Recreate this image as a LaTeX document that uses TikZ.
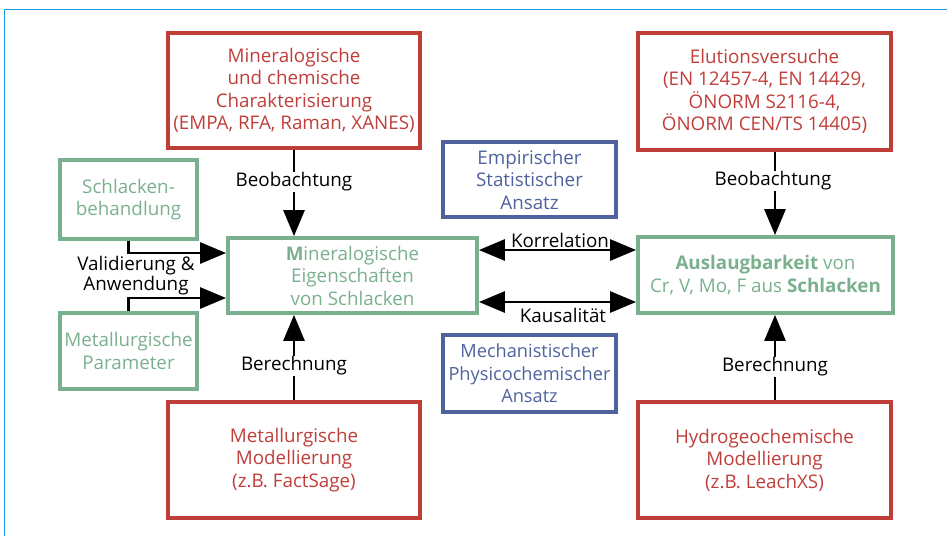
\documentclass[tikz,border=0pt]{standalone}
\usepackage{fontspec}
\setmainfont{Open Sans}
\usetikzlibrary{arrows.meta}
\definecolor{fred}{RGB}{192,62,58}
\definecolor{fgreen}{RGB}{122,176,142}
\definecolor{fblue}{RGB}{78,98,158}
\definecolor{fframe}{RGB}{20,160,225}
\tikzset{
  box/.style={draw, line width=3.8pt, align=center, inner sep=0pt, font=\fontsize{18.8}{22.5}\selectfont},
  redbox/.style={box, draw=fred, text=fred},
  greenbox/.style={box, draw=fgreen, text=fgreen},
  bluebox/.style={box, draw=fblue, text=fblue},
  tipstyle/.style={},
  arr/.style={line width=2.8pt, -{Triangle[length=26pt,width=21pt]}},
  darr/.style={line width=2.8pt, {Triangle[length=26pt,width=21pt]}-{Triangle[length=26pt,width=21pt]}},
  lbl/.style={fill=white, inner sep=1pt, font=\fontsize{18.8}{22}\selectfont, align=center},
  plain/.style={inner sep=0pt, font=\fontsize{18.8}{22}\selectfont, align=center}
}
\begin{document}
\begin{tikzpicture}[x=1pt,y=-1pt]
\useasboundingbox (0,0) rectangle (947,536);
\draw[fframe, line width=1.6pt] (4.5,536) -- (4.5,9.5) -- (947,9.5);

\node[redbox, minimum width=252pt, minimum height=115pt] (ml) at (294,90.5)
  {Mineralogische\\und chemische\\Charakterisierung\\(EMPA, RFA, Raman, XANES)};
\node[redbox, minimum width=253pt, minimum height=117pt] (el) at (764.5,91.5)
  {Elutionsversuche\\(EN 12457-4, EN 14429,\\ÖNORM S2116-4,\\ÖNORM CEN/TS 14405)};
\node[redbox, minimum width=252pt, minimum height=116pt] (mm) at (294,460)
  {Metallurgische\\Modellierung\\(z.B. FactSage)};
\node[redbox, minimum width=253pt, minimum height=116pt] (hg) at (764.5,460)
  {Hydrogeochemische\\Modellierung\\(z.B. LeachXS)};

\node[greenbox, minimum width=249pt, minimum height=75pt] (me) at (352.5,275.5)
  {\textbf{M}ineralogische\\Eigenschaften\\von Schlacken};
\node[greenbox, minimum width=255pt, minimum height=76pt] (au) at (765.5,275)
  {\textbf{Auslaugbarkeit} von\\Cr, V, Mo, F aus \textbf{Schlacken}};
\node[greenbox, minimum width=137pt, minimum height=79pt] (sb) at (128.5,199.5)
  {Schlacken-\\behandlung};
\node[greenbox, minimum width=137pt, minimum height=76pt] (mp) at (128.5,351)
  {Metallurgische\\Parameter};

\node[bluebox, minimum width=173pt, minimum height=75pt] (es) at (529.5,179.5)
  {Empirischer\\Statistischer\\Ansatz};
\node[bluebox, minimum width=173pt, minimum height=77pt, font=\fontsize{18.2}{22.5}\selectfont] (mc) at (529.5,373.5)
  {Mechanistischer\\Physicochemischer\\Ansatz};

% vertical arrows
\draw[arr] (ml.south) -- (ml.south |- me.north);
\draw[arr] (mm.north) -- (mm.north |- me.south);
\draw[arr] ([xshift=10.5pt]el.south) -- ([xshift=10.5pt]el.south |- au.north);
\draw[arr] ([xshift=10.5pt]hg.north) -- ([xshift=10.5pt]hg.north |- au.south);
\node[lbl] (b1) at (294,182) {Beobachtung};
\node[lbl] (b2) at (773,181) {Beobachtung};
\node[lbl] (c1) at (294,366) {Berechnung};
\node[lbl] (c2) at (775,367) {Berechnung};

% horizontal double arrows
\draw[darr] ([yshift=25.5pt]me.east) -- ([yshift=25.5pt]me.east -| au.west);
\draw[darr] ([yshift=-26.5pt]me.east) -- ([yshift=-26.5pt]me.east -| au.west);
\node[plain] (k1) at (560,240) {Korrelation};
\node[plain] (k2) at (563,315) {Kausalität};

% left elbow arrows
\draw[arr] (sb.south) |- ([yshift=22.5pt]me.west);
\draw[arr] (mp.north) |- ([yshift=-22.5pt]me.west);
\node[plain, font=\fontsize{18.8}{18}\selectfont] (va) at (136,276) {Validierung \&\\Anwendung};
\end{tikzpicture}
\end{document}
